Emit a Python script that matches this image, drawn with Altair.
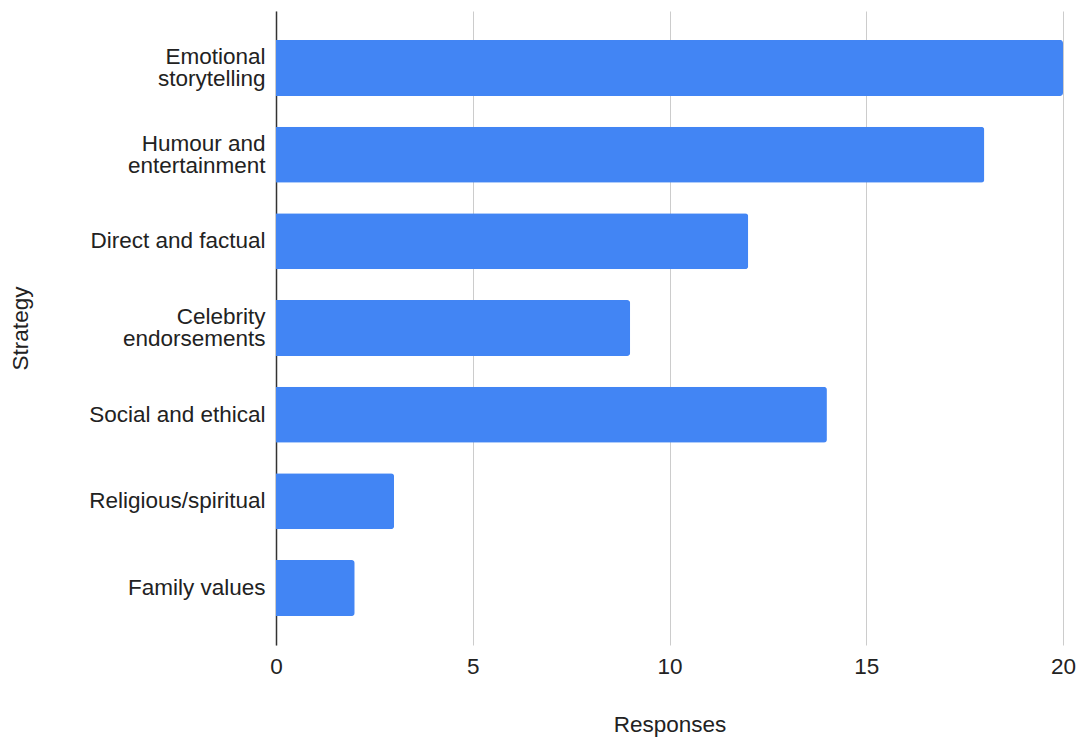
import altair as alt
import pandas as pd

# Survey responses per advertising strategy
strategies = [
    "Emotional|storytelling",
    "Humour and|entertainment",
    "Direct and factual",
    "Celebrity|endorsements",
    "Social and ethical",
    "Religious/spiritual",
    "Family values",
]
responses = [20, 18, 12, 9, 14, 3, 2]
x_ticks = [0, 5, 10, 15, 20]

df = pd.DataFrame({"Strategy": strategies, "Responses": responses})

font = "Liberation Sans"
fs = 22.5
line_h = 22

bars = alt.Chart(df).mark_bar(
    color="#4285F4", cornerRadiusEnd=3
).encode(
    x=alt.X(
        "Responses:Q",
        scale=alt.Scale(domain=[0, 20], nice=False),
        axis=alt.Axis(
            values=x_ticks,
            title="Responses",
            domain=False,
            ticks=False,
            grid=True,
            gridColor="#cccccc",
            gridWidth=1,
            labelFlush=False,
            labelFontSize=fs,
            labelColor="#222222",
            labelPadding=10,
            labelFont=font,
            titleFont=font,
            titleFontSize=fs,
            titleFontWeight="normal",
            titleColor="#222222",
            titlePadding=36,
        ),
    ),
    y=alt.Y(
        "Strategy:N",
        sort=strategies,
        scale=alt.Scale(paddingInner=0.354, paddingOuter=0.334),
        axis=alt.Axis(
            title="Strategy",
            labelExpr="split(datum.label, '|')",
            # two-line labels are centred on their band
            labelOffset={
                "condition": {"test": "indexof(datum.value, '|') >= 0", "value": -line_h / 2},
                "value": 0,
            },
            domain=True,
            domainColor="#333333",
            domainWidth=1.5,
            ticks=False,
            grid=False,
            labelFontSize=fs,
            labelColor="#222222",
            labelPadding=11,
            labelLineHeight=line_h,
            labelFont=font,
            labelLimit=300,
            titleFont=font,
            titleFontSize=fs,
            titleFontWeight="normal",
            titleColor="#222222",
            titlePadding=56,
        ),
    ),
)

chart = bars.properties(
    width=787,
    height=634,
    autosize=alt.AutoSizeParams(type="none"),
    padding={"left": 276, "top": 11, "right": 22, "bottom": 95},
    background="white",
).configure_view(stroke=None)

chart.save("out.html", embed_options={"renderer": "svg", "actions": False})
